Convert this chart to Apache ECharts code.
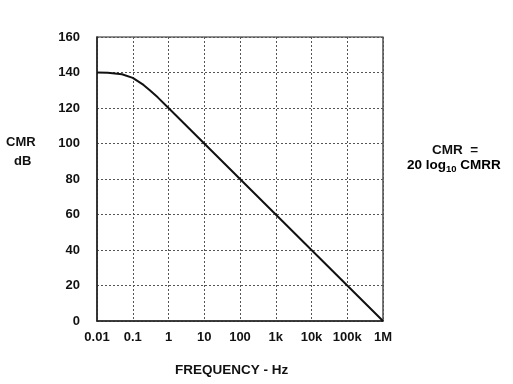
<!DOCTYPE html>
<html><head><meta charset="utf-8">
<script src="https://cdn.jsdelivr.net/npm/echarts@6/dist/echarts.min.js"></script>
<style>html,body{margin:0;padding:0;background:#fff}#c{width:513px;height:384px}</style>
</head><body><div id="c"></div>
<script>
var freqs = [0.01, 0.02, 0.05, 0.1, 0.2, 0.3, 0.5, 1, 10, 100, 1000, 10000, 100000, 1000000];
var cmr = [140, 139.8, 139, 137, 133, 130, 126, 120, 100, 80, 60, 40, 20, 0];
var xTickLabels = ['0.01', '0.1', '1', '10', '100', '1k', '10k', '100k', '1M'];
var yTicks = [0, 20, 40, 60, 80, 100, 120, 140, 160];

var F = 'Liberation Sans, Arial, sans-serif';
var chart = echarts.init(document.getElementById('c'));
chart.setOption({
  animation: false,
  backgroundColor: '#fff',
  grid: {left: 97, right: 130, top: 37, bottom: 63, show: true, borderColor: '#222', borderWidth: 1.2},
  xAxis: {
    type: 'log', logBase: 10, min: 0.01, max: 1000000, interval: 1,
    axisLine: {show: true, lineStyle: {color: '#222', width: 1.5}},
    axisTick: {show: false},
    minorTick: {show: false},
    splitLine: {show: true, lineStyle: {color: '#555', type: [2, 2], width: 1}},
    axisLabel: {
      margin: 10, color: '#111', fontFamily: F, fontWeight: 'bold', fontSize: 13,
      formatter: function (v) { var i = Math.round(Math.log10(v)) + 2; return xTickLabels[i] || ''; }
    }
  },
  yAxis: {
    type: 'value', min: yTicks[0], max: yTicks[yTicks.length - 1], interval: 20,
    axisLine: {show: true, lineStyle: {color: '#222', width: 1.5}},
    axisTick: {show: false},
    splitLine: {show: true, lineStyle: {color: '#555', type: [2, 2], width: 1}},
    axisLabel: {margin: 17, color: '#111', fontFamily: F, fontWeight: 'bold', fontSize: 13}
  },
  series: [{
    type: 'line', showSymbol: false, smooth: false,
    lineStyle: {color: '#111', width: 2},
    data: freqs.map(function (f, i) { return [f, cmr[i]]; })
  }],
  graphic: [
    {type: 'text', left: 6, top: 136, style: {text: 'CMR', font: 'bold 13px ' + F, fill: '#111'}},
    {type: 'text', left: 14, top: 155, style: {text: 'dB', font: 'bold 13px ' + F, fill: '#111'}},
    {type: 'text', left: 175, top: 363, style: {text: 'FREQUENCY - Hz', font: 'bold 13.5px ' + F, fill: '#111'}},
    {type: 'text', left: 432, top: 143, style: {text: 'CMR  =', font: 'bold 13.5px ' + F, fill: '#111'}},
    {type: 'text', left: 407, top: 158, style: {
      text: '{a|20 log}{s|10}{a| CMRR}',
      rich: {
        a: {font: 'bold 13.5px ' + F, color: '#111'},
        s: {font: 'bold 9.5px ' + F, color: '#111', padding: [8, 0, 0, 0]}
      }
    }}
  ]
});
</script></body></html>
